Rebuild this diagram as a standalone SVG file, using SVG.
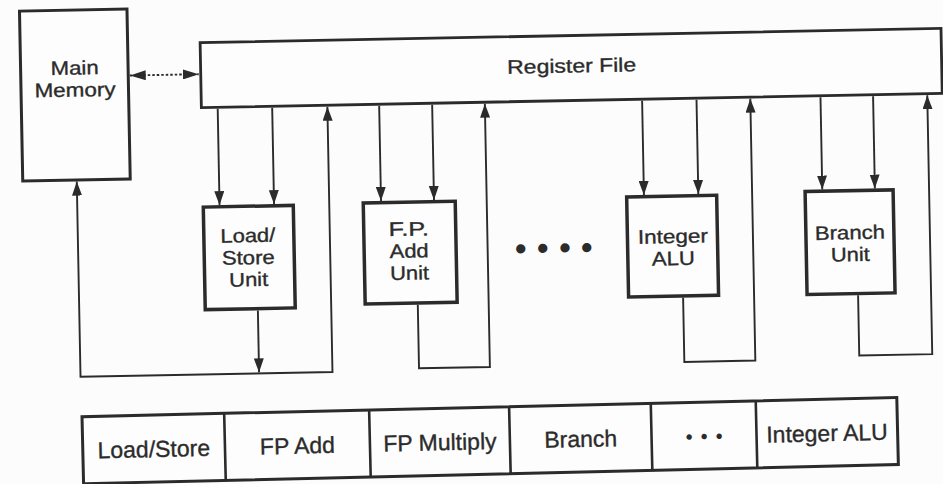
<svg xmlns="http://www.w3.org/2000/svg" width="943" height="484" viewBox="0 0 943 484">
  <style>
    .box { fill: #fdfdfd; stroke: #2b2b2b; }
    .mm { stroke-width: 3; }
    .rf { stroke-width: 2.8; }
    .unit { stroke-width: 3.5; }
    .tbl { fill: #fdfdfd; stroke: #2b2b2b; stroke-width: 3; }
    .div { stroke: #2b2b2b; stroke-width: 2.6; fill: none; }
    .lbl { font-family: "Liberation Sans", Arial, sans-serif; font-size: 19.5px; fill: #2b2b2b; stroke: #2b2b2b; stroke-width: 0.35; text-anchor: middle; }
    .tl { font-family: "Liberation Sans", Arial, sans-serif; font-size: 23px; fill: #2b2b2b; stroke: #2b2b2b; stroke-width: 0.35; text-anchor: middle; }
    .dots { font-family: "Liberation Sans", Arial, sans-serif; fill: #2b2b2b; text-anchor: middle; }
    .conn { fill: none; stroke: #2b2b2b; stroke-width: 1.9; }
  </style>
  <defs>
    <marker id="ah" markerUnits="userSpaceOnUse" markerWidth="14" markerHeight="10" refX="14" refY="5" orient="auto-start-reverse" viewBox="0 0 14 10">
      <path d="M0,0 L14,5 L0,10 z" fill="#2b2b2b"/>
    </marker>
    <marker id="ahb" markerUnits="userSpaceOnUse" markerWidth="16" markerHeight="10" refX="16" refY="5" orient="auto-start-reverse" viewBox="0 0 16 10">
      <path d="M0,0 L16,5 L0,10 z" fill="#2b2b2b"/>
    </marker>
  </defs>
  <rect x="0" y="0" width="943" height="484" fill="#fcfcfc"/>

  <g transform="rotate(-1.1 471 242)">
    <g id="main-memory">
      <rect class="box mm" x="24" y="2.5" width="107.5" height="170"/>
      <text class="lbl" x="78" y="67" textLength="48" lengthAdjust="spacingAndGlyphs">Main</text>
      <text class="lbl" x="78" y="89" textLength="81" lengthAdjust="spacingAndGlyphs">Memory</text>
    </g>
    <g id="register-file">
      <rect class="box rf" x="204" y="37.5" width="741" height="65"/>
      <text class="lbl" x="575" y="74.5" font-size="21" textLength="129" lengthAdjust="spacingAndGlyphs">Register File</text>
    </g>
    <g id="load-store-unit">
      <rect class="box unit" x="204" y="202" width="90" height="102.5"/>
      <text class="lbl" x="248" y="238" textLength="55" lengthAdjust="spacingAndGlyphs">Load/</text>
      <text class="lbl" x="248" y="260" textLength="53" lengthAdjust="spacingAndGlyphs">Store</text>
      <text class="lbl" x="248" y="282" textLength="39" lengthAdjust="spacingAndGlyphs">Unit</text>
    </g>
    <g id="fp-add-unit">
      <rect class="box unit" x="364" y="201" width="92" height="101"/>
      <text class="lbl" x="409" y="234.5" textLength="40" lengthAdjust="spacingAndGlyphs">F.P.</text>
      <text class="lbl" x="409" y="256.5" textLength="39" lengthAdjust="spacingAndGlyphs">Add</text>
      <text class="lbl" x="409" y="278.5" textLength="39" lengthAdjust="spacingAndGlyphs">Unit</text>
    </g>
    <g id="ellipsis">
      <text class="dots" font-size="34" x="520.6 542.6 564.9 586.6" y="261">••••</text>
    </g>
    <g id="integer-alu">
      <rect class="box unit" x="627.5" y="200" width="90" height="100"/>
      <text class="lbl" x="673" y="247" textLength="70" lengthAdjust="spacingAndGlyphs">Integer</text>
      <text class="lbl" x="673" y="269" textLength="43" lengthAdjust="spacingAndGlyphs">ALU</text>
    </g>
    <g id="branch-unit">
      <rect class="box unit" x="806" y="198" width="88" height="103"/>
      <text class="lbl" x="850" y="246.5" textLength="70" lengthAdjust="spacingAndGlyphs">Branch</text>
      <text class="lbl" x="850" y="268.5" textLength="39" lengthAdjust="spacingAndGlyphs">Unit</text>
    </g>

    <g id="connectors">
      <path class="conn" d="M133,69 H202" stroke-dasharray="2.5 2" marker-start="url(#ahb)" marker-end="url(#ahb)"/>
      <path class="conn" d="M220.3,104 V200.3" marker-end="url(#ah)"/>
      <path class="conn" d="M274.8,104 V200.3" marker-end="url(#ah)"/>
      <path class="conn" d="M381.8,104 V199.3" marker-end="url(#ah)"/>
      <path class="conn" d="M434.8,104 V199.3" marker-end="url(#ah)"/>
      <path class="conn" d="M644.8,104 V198.3" marker-end="url(#ah)"/>
      <path class="conn" d="M699.2,104 V198.3" marker-end="url(#ah)"/>
      <path class="conn" d="M823.2,104 V196.3" marker-end="url(#ah)"/>
      <path class="conn" d="M875.8,104 V196.3" marker-end="url(#ah)"/>
      <path class="conn" d="M256.6,306.3 V368.3" marker-end="url(#ah)"/>
      <path class="conn" d="M78,174 V369.3 H330 V104" marker-start="url(#ah)" marker-end="url(#ah)"/>
      <path class="conn" d="M416.6,303.7 V367.3 H487.5 V104" marker-end="url(#ah)"/>
      <path class="conn" d="M682,301.7 V366 H753 V104" marker-end="url(#ah)"/>
      <path class="conn" d="M857,302.7 V363 H930 V104" marker-end="url(#ah)"/>
    </g>
  </g>

  <g id="unit-table" transform="rotate(-1.35 471 242)">
    <rect class="tbl" x="78" y="407.5" width="815" height="67"/>
    <path class="div" d="M220.2,407.5 V474.5 M365.2,407.5 V474.5 M505.2,407.5 V474.5 M646.9,407.5 V474.5 M751.9,407.5 V474.5"/>
    <text class="tl" x="149" y="449.5">Load/Store</text>
    <text class="tl" x="292.7" y="449.5">FP Add</text>
    <text class="tl" x="435.2" y="449.5">FP Multiply</text>
    <text class="tl" x="576" y="449.5">Branch</text>
    <text class="dots" font-size="20" x="684.4 699.4 714.4" y="448.7">•••</text>
    <text class="tl" x="822.4" y="449.5">Integer ALU</text>
  </g>
</svg>
